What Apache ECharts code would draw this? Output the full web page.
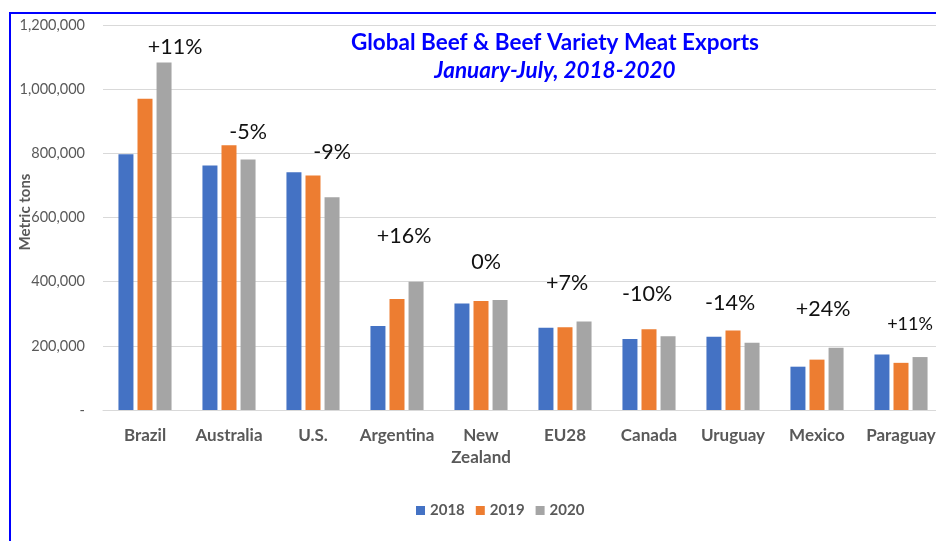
<!DOCTYPE html>
<html>
<head>
<meta charset="utf-8">
<script src="https://cdn.jsdelivr.net/npm/echarts@6/dist/echarts.min.js"></script>
<style>
  html, body { margin: 0; padding: 0; background: #fff; overflow: hidden; }
  #wrap {
    position: relative; width: 936px; height: 541px; overflow: hidden;
    background-color: #fff;
    background-image: linear-gradient(#0000FF, #0000FF), linear-gradient(#0000FF, #0000FF);
    background-repeat: no-repeat;
    background-size: 927px 2px, 2px 529px;
    background-position: 9px 12px, 9px 12px;
  }
  #main { width: 936px; height: 541px; }
</style>
</head>
<body>
<div id="wrap">
  <div id="main"></div>
</div>
<script>
// 国家
var countries = ['Brazil', 'Australia', 'U.S.', 'Argentina', 'New\nZealand', 'EU28', 'Canada', 'Uruguay', 'Mexico', 'Paraguay'];

// 出口量（公吨）
var y2018 = [797000, 762000, 741000, 262000, 332000, 256000, 221000, 228000, 135000, 173000];
var y2019 = [970000, 825000, 731000, 346000, 340000, 258000, 252000, 248000, 157000, 147000];
var y2020 = [1083000, 781000, 663000, 400000, 343000, 276000, 230000, 210000, 194000, 165000];

// 变化率标注
var changes = ['+11%', '-5%', '-9%', '+16%', '0%', '+7%', '-10%', '-14%', '+24%', '+11%'];

// 标注位置微调（样式）
var labelShift = [[11, 4], [0, 16], [0, 34], [-12, 35], [-14, 27], [-17, 27], [-21, 31], [-22, 29], [-13, 28], [-10, 24]];

function fmt(v) {
    if (v === 0) return '-';
    return v.toString().replace(/\B(?=(\d{3})+(?!\d))/g, ',');
}

var myChart = echarts.init(document.getElementById('main'));

var grayData = y2020.map(function (v, i) {
    return {
        value: v,
        label: {
            show: true,
            position: 'top',
            distance: labelShift[i][1],
            offset: [labelShift[i][0], 0],
            fontSize: i === 9 ? 18 : 21.5,
            formatter: changes[i]
        }
    };
});

var option = {
    animation: false,
    textStyle: { fontFamily: 'Lato' },
    color: ['#4472C4', '#ED7D31', '#A5A5A5'],
    title: {
        text: 'Global Beef & Beef Variety Meat Exports',
        subtext: 'January-July, 2018-2020',
        left: 550,
        textAlign: 'center',
        top: 26,
        itemGap: 5,
        textStyle: { color: '#0000FF', fontSize: 22.5, fontWeight: 'bold', fontFamily: 'Lato' },
        subtextStyle: { color: '#0000FF', fontSize: 22.5, fontWeight: 'bold', fontStyle: 'italic', fontFamily: 'Lato' }
    },
    legend: {
        data: ['2018', '2019', '2020'],
        left: 411,
        top: 498,
        itemWidth: 9,
        itemHeight: 9,
        itemGap: 11,
        icon: 'rect',
        textStyle: { color: '#595959', fontSize: 15, fontWeight: 'bold', fontFamily: 'Lato' }
    },
    grid: { left: 103, right: -7, top: 25, bottom: 131, containLabel: false, outerBoundsMode: 'none' },
    xAxis: {
        type: 'category',
        data: countries,
        axisTick: { show: false },
        axisLine: { lineStyle: { color: '#D9D9D9' } },
        axisLabel: { color: '#595959', fontSize: 17, fontWeight: 'bold', margin: 15, interval: 0, lineHeight: 22 }
    },
    yAxis: {
        type: 'value',
        min: 0,
        max: 1200000,
        interval: 200000,
        axisLabel: { color: '#595959', fontSize: 14.5, margin: 18, formatter: fmt },
        splitLine: { lineStyle: { color: '#D9D9D9' } }
    },
    series: [
        { name: '2018', type: 'bar', data: y2018, barWidth: 15, barGap: '27%' },
        { name: '2019', type: 'bar', data: y2019, barWidth: 15, barGap: '27%' },
        {
            name: '2020', type: 'bar', data: grayData, barWidth: 15, barGap: '27%',
            label: { color: '#111', fontFamily: 'Lato' }
        }
    ],
    graphic: [{
        type: 'text',
        x: 25,
        y: 212,
        rotation: Math.PI / 2,
        style: {
            text: 'Metric tons',
            fill: '#595959',
            font: 'bold 15px Lato',
            align: 'center',
            verticalAlign: 'middle'
        }
    }]
};

myChart.setOption(option);
</script>
</body>
</html>
